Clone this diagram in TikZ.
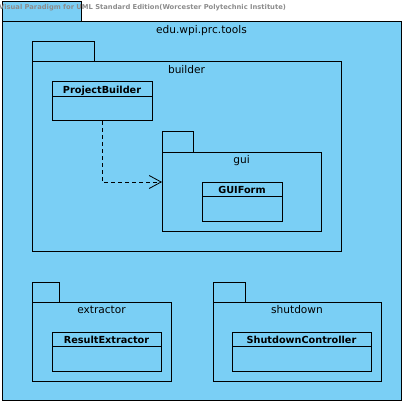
\documentclass[tikz,border=0pt]{standalone}
\usepackage{fontspec}
\setmainfont{DejaVu Sans}
\usetikzlibrary{arrows.meta,positioning}
\definecolor{pkgblue}{RGB}{122,207,245}
\tikzset{
  box/.style={draw,fill=pkgblue,line width=1pt,anchor=north west,inner sep=0pt,outer sep=0pt},
  pkgname/.style={anchor=base,inner sep=0pt,font=\fontsize{10.6}{12}\selectfont},
  clsname/.style={anchor=base,inner sep=0pt,font=\fontsize{9.7}{12}\selectfont\bfseries},
  depend/.style={line width=0.8pt,dash pattern=on 4pt off 3pt,-{Straight Barb[length=12pt,width=13pt,line width=0.8pt]}}
}

\begin{document}
\begin{tikzpicture}[x=1pt,y=-1pt]
\useasboundingbox (0,0) rectangle (406,406);
% packages: tab, body, name
\node[box,minimum width=79pt,minimum height=20pt] (toolsTab) at (2,2) {};
\node[box,minimum width=399pt,minimum height=378pt] (tools) at (2,22) {};
\node[pkgname] at ([yshift=-11.5pt]tools.north) {edu.wpi.prc.tools};
\node[box,minimum width=62pt,minimum height=20pt] (builderTab) at (32,42) {};
\node[box,minimum width=309pt,minimum height=189pt] (builder) at (32,62) {};
\node[pkgname] at ([yshift=-12pt]builder.north) {builder};
\node[box,minimum width=31pt,minimum height=20pt] (guiTab) at (162,132) {};
\node[box,minimum width=159pt,minimum height=79pt] (gui) at (162,152) {};
\node[pkgname] at ([yshift=-11.5pt]gui.north) {gui};
\node[box,minimum width=27pt,minimum height=20pt] (extractorTab) at (32,282) {};
\node[box,minimum width=139pt,minimum height=79pt] (extractor) at (32,302) {};
\node[pkgname] at ([yshift=-11pt]extractor.north) {extractor};
\node[box,minimum width=32pt,minimum height=20pt] (shutdownTab) at (213,282) {};
\node[box,minimum width=168pt,minimum height=79pt] (shutdown) at (213,302) {};
\node[pkgname] at ([yshift=-11pt]shutdown.north) {shutdown};
% classes
\node[box,minimum width=100pt,minimum height=39pt] (pb) at (52,82) {};
\draw[line width=1pt] ([yshift=-15pt]pb.north west)--([yshift=-15pt]pb.north east);
\node[clsname] at ([yshift=-11.3pt]pb.north) {ProjectBuilder};
\node[box,minimum width=80pt,minimum height=39pt] (gf) at (202,182) {};
\draw[line width=1pt] ([yshift=-14pt]gf.north west)--([yshift=-14pt]gf.north east);
\node[clsname] at ([yshift=-11pt]gf.north) {GUIForm};
\node[box,minimum width=109pt,minimum height=39pt] (re) at (52,332) {};
\draw[line width=1pt] ([yshift=-14pt]re.north west)--([yshift=-14pt]re.north east);
\node[clsname] at ([yshift=-11pt]re.north) {ResultExtractor};
\node[box,minimum width=139pt,minimum height=39pt] (sc) at (232,332) {};
\draw[line width=1pt] ([yshift=-14pt]sc.north west)--([yshift=-14pt]sc.north east);
\node[clsname] at ([yshift=-11pt]sc.north) {ShutdownController};
% dependency
\draw[depend] (pb.south) |- (gui.west |- gf.north);
% watermark
\node[anchor=base west,inner sep=0pt,text=black!45,font=\fontsize{6.75}{8}\selectfont\bfseries] (mark) at (-1,9.5) {Visual Paradigm for UML Standard Edition(Worcester Polytechnic Institute)};
\end{tikzpicture}
\end{document}
